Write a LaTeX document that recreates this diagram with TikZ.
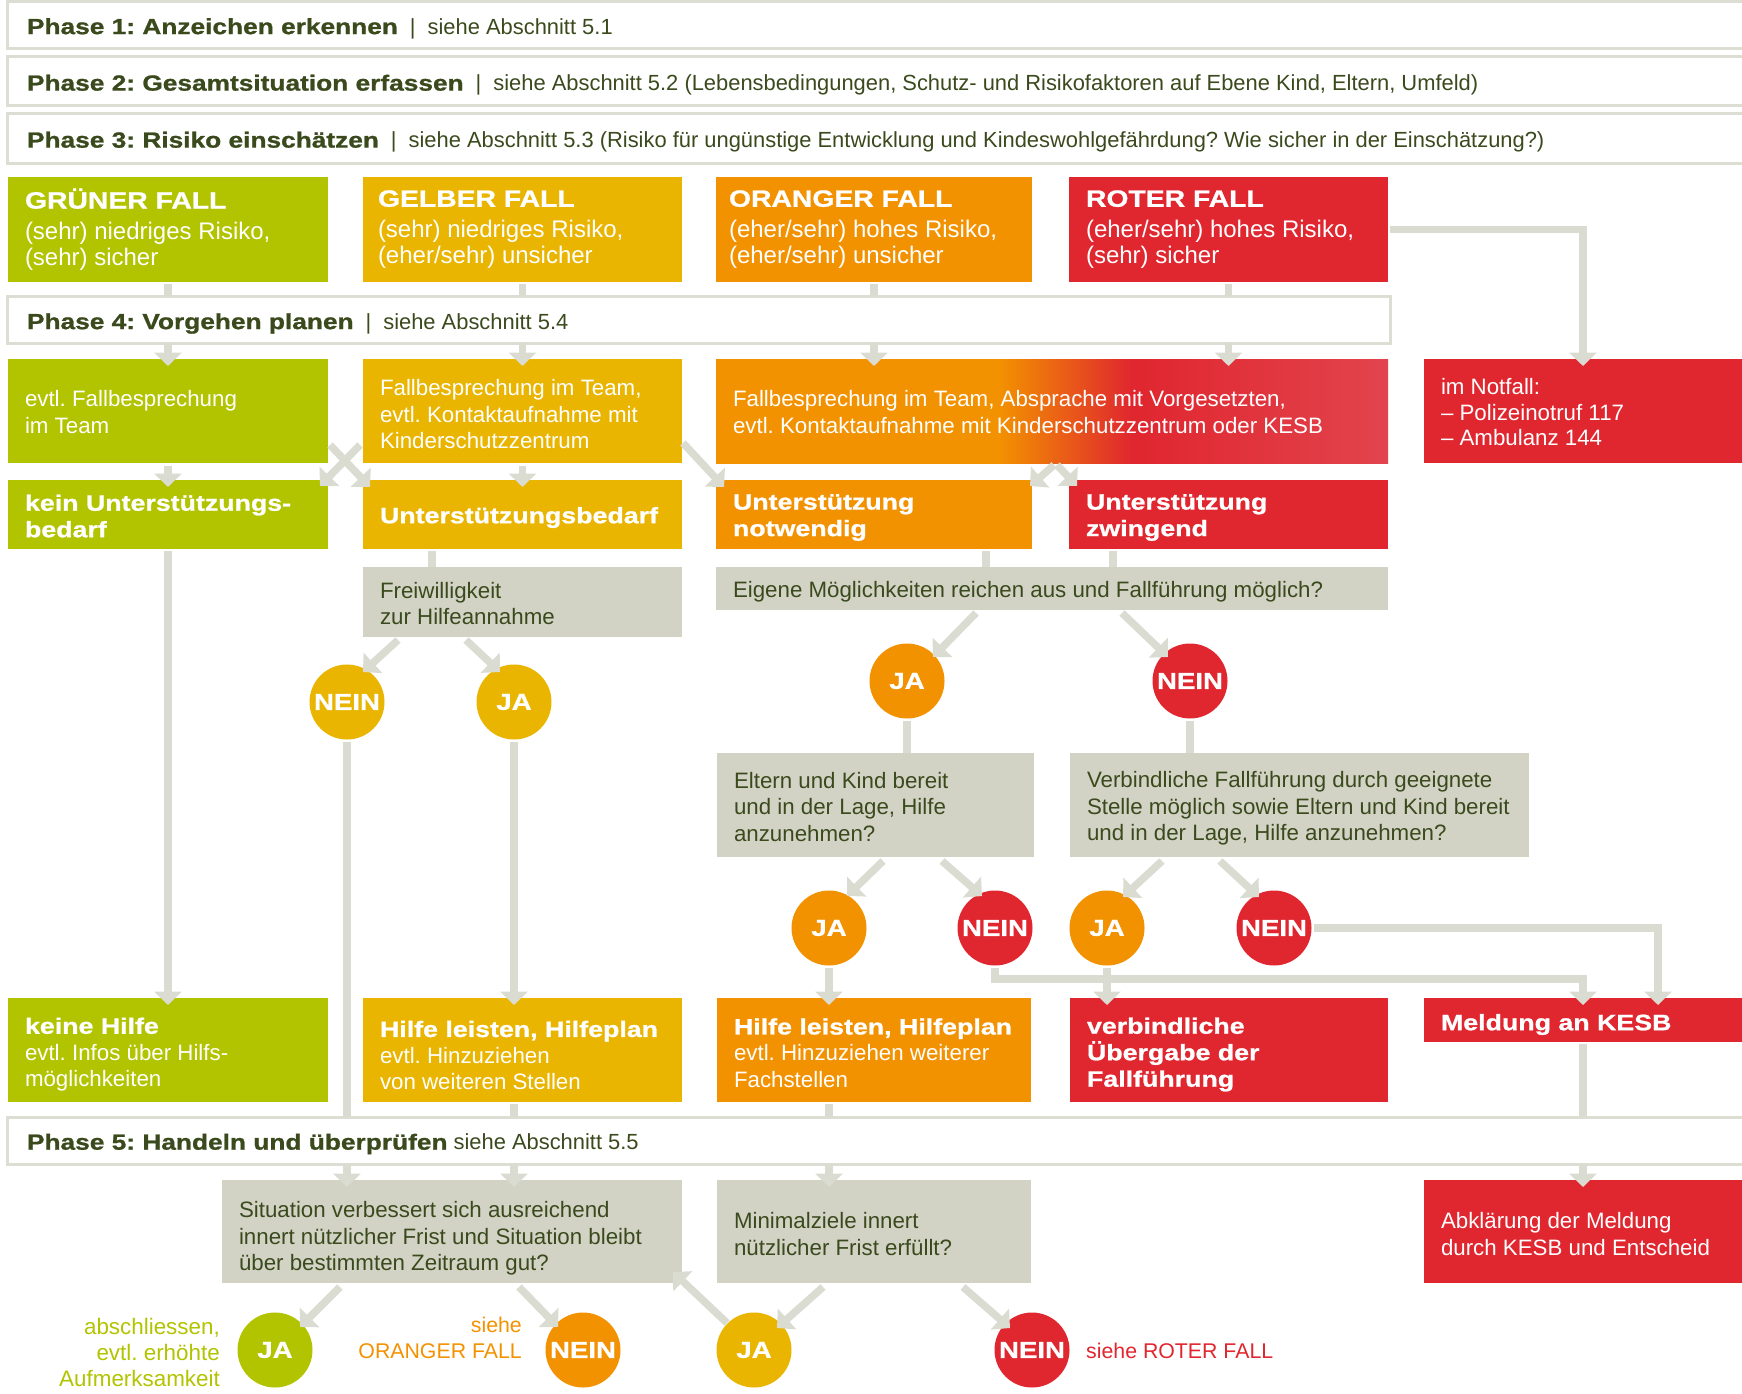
\documentclass[tikz,border=0pt]{standalone}
\usepackage{fontspec}
\setmainfont{Liberation Sans}[BoldFeatures={FakeStretch=1.2,FakeBold=1}]
\usetikzlibrary{arrows.meta,calc}
\frenchspacing
\definecolor{cG}{HTML}{B2C300}
\definecolor{cY}{HTML}{E9B500}
\definecolor{cO}{HTML}{F39200}
\definecolor{cR}{HTML}{E0262F}
\definecolor{cRl}{HTML}{E2444D}
\definecolor{cGray}{HTML}{D2D3C5}
\definecolor{cArr}{HTML}{DADBD1}
\definecolor{cLine}{HTML}{DCDDD3}
\definecolor{cTxt}{HTML}{3A4A1D}
\pgfdeclarehorizontalshading{orangered}{100bp}{color(0bp)=(cO); color(46bp)=(cO); color(56bp)=(cR); color(75bp)=(cRl); color(100bp)=(cRl)}
\newcommand\fPh{\fontsize{21.9}{26}\selectfont}
\newcommand\fCT{\fontsize{23.6}{26}\selectfont\bfseries}
\newcommand\fCB{\fontsize{24}{26}\selectfont}
\newcommand\fBx{\fontsize{22.3}{26.5}\selectfont}
\newcommand\fNf{\fontsize{22.3}{25.5}\selectfont}
\newcommand\fCi{\fontsize{23}{26}\selectfont\bfseries}
\newcommand\fLb{\fontsize{21.3}{26}\selectfont}
\newcommand\fLg{\fontsize{22.4}{26}\selectfont}
\newcommand\bxsh{3.5pt}
\newcommand\bx[7]{\pgfmathsetmacro\bxw{#4-#2}\pgfmathsetmacro\bxh{#5-#3}\pgfmathsetmacro\bxt{#4-#2-34}%
\node[#6,minimum width=\bxw pt,minimum height=\bxh pt] (#1) at (#2,#3) {\raisebox{-\bxsh}[\height][\depth]{\begin{minipage}{\bxt pt}\raggedright #7\end{minipage}}};}
\newcommand\sep{\hskip 12pt{\mdseries|}\hskip 12pt}
\begin{document}
\begin{tikzpicture}[x=1pt,y=-1pt,
  box/.style={inner xsep=17pt,inner ysep=0pt,outer sep=0pt,anchor=north west,font=\fBx},
  wbox/.style={box,text=white},
  gbox/.style={box,fill=cGray,text=cTxt},
  phase/.style={box,fill=white,draw=cLine,line width=3pt,text=cTxt,font=\fPh},
  casebox/.style={wbox,font=\fCB},
  circ/.style={circle,minimum size=75pt,inner sep=0pt,text=white,font=\fCi},
  ln/.style={draw=cArr,line width=7.5pt},
  ar/.style={ln,-{Triangle[width=27pt,length=13.5pt]}},
  lbl/.style={font=\fLb,inner sep=0pt}]
\useasboundingbox (0,0) rectangle (1742,1394);
\clip (0,0) rectangle (1742,1394);
% phase boxes
\renewcommand\bxsh{3pt}
\bx{p1}{7}{2}{1760}{49}{phase}{\hspace*{3pt}{\bfseries Phase 1: Anzeichen erkennen}\sep siehe Abschnitt 5.1}
\renewcommand\bxsh{3.5pt}
\bx{p2}{7}{57}{1760}{106}{phase}{\hspace*{3pt}{\bfseries Phase 2: Gesamtsituation erfassen}\sep siehe Abschnitt 5.2 (Lebensbedingungen, Schutz- und Risikofaktoren auf Ebene Kind, Eltern, Umfeld)}
\bx{p3}{7}{114}{1760}{163}{phase}{\hspace*{3pt}{\bfseries Phase 3: Risiko einschätzen}\sep siehe Abschnitt 5.3 (Risiko für ungünstige Entwicklung und Kindeswohlgefährdung? Wie sicher in der Einschätzung?)}
% case boxes
\renewcommand\bxsh{0pt}
\bx{caseG}{8}{177}{328}{282}{casebox,fill=cG}{{\fCT GRÜNER FALL}\\[5pt](sehr) niedriges Risiko,\\(sehr) sicher}
\bx{caseY}{363}{177}{682}{282}{casebox,fill=cY}{\hspace*{-2pt}{\fCT GELBER FALL}\\[5pt]\hspace*{-2pt}(sehr) niedriges Risiko,\\\hspace*{-2pt}(eher/sehr) unsicher}
\bx{caseO}{716}{177}{1032}{282}{casebox,fill=cO}{\hspace*{-4pt}{\fCT ORANGER FALL}\\[5pt]\hspace*{-4pt}(eher/sehr) hohes Risiko,\\\hspace*{-4pt}(eher/sehr) unsicher}
\bx{caseR}{1069}{177}{1388}{282}{casebox,fill=cR}{{\fCT ROTER FALL}\\[5pt](eher/sehr) hohes Risiko,\\(sehr) sicher}
\renewcommand\bxsh{4pt}
\bx{plan}{7}{296}{1390}{343}{phase}{\hspace*{3pt}{\bfseries Phase 4: Vorgehen planen}\sep siehe Abschnitt 5.4}
% row 1
\renewcommand\bxsh{1.2pt}
\bx{talkG}{8}{359}{328}{463}{wbox,fill=cG}{evtl. Fallbesprechung\\im Team}
\bx{talkOR}{716}{359}{1388}{463}{wbox,shade,shading=orangered}{Fallbesprechung im Team, Absprache mit Vorgesetzten,\\evtl. Kontaktaufnahme mit Kinderschutzzentrum oder KESB}
\bx{notfall}{1424}{359}{1760}{463}{wbox,fill=cR,font=\fNf}{im Notfall:\\– Polizeinotruf 117\\– Ambulanz 144}
\renewcommand\bxsh{3.5pt}
\bx{talkY}{363}{359}{682}{463}{wbox,fill=cY}{Fallbesprechung im Team,\\evtl. Kontaktaufnahme mit\\Kinderschutzzentrum}
% row 2
\renewcommand\bxsh{1.5pt}
\bx{needG}{8}{480}{328}{549}{wbox,fill=cG}{\bfseries kein Unterstützungs-\\bedarf}
\renewcommand\bxsh{3pt}
\bx{needY}{363}{480}{682}{549}{wbox,fill=cY}{\bfseries Unterstützungsbedarf}
\bx{needO}{716}{480}{1032}{549}{wbox,fill=cO}{\bfseries Unterstützung\\notwendig}
\bx{needR}{1069}{480}{1388}{549}{wbox,fill=cR}{\bfseries Unterstützung\\zwingend}
% row 3
\renewcommand\bxsh{1.5pt}
\bx{freiw}{363}{567}{682}{637}{gbox}{Freiwilligkeit\\zur Hilfeannahme}
\renewcommand\bxsh{3.5pt}
\bx{eigene}{716}{567}{1388}{610}{gbox}{Eigene Möglichkeiten reichen aus und Fallführung möglich?}
\node[circ,fill=cY] (fNein) at (347,702) {NEIN};
\node[circ,fill=cY] (fJa) at (514,702) {JA};
\node[circ,fill=cO] (eJa) at (907,681) {JA};
\node[circ,fill=cR] (eNein) at (1190,681) {NEIN};
% row 4
\renewcommand\bxsh{1.8pt}
\bx{eltern}{717}{753}{1034}{857}{gbox}{Eltern und Kind bereit\\und in der Lage, Hilfe\\anzunehmen?}
\renewcommand\bxsh{3.5pt}
\bx{verb}{1070}{753}{1529}{857}{gbox}{Verbindliche Fallführung durch geeignete\\Stelle möglich sowie Eltern und Kind bereit\\und in der Lage, Hilfe anzunehmen?}
\node[circ,fill=cO] (e2Ja) at (829,928) {JA};
\node[circ,fill=cR] (e2Nein) at (995,928) {NEIN};
\node[circ,fill=cO] (v2Ja) at (1107,928) {JA};
\node[circ,fill=cR] (v2Nein) at (1274,928) {NEIN};
% row 6
\renewcommand\bxsh{4.5pt}
\bx{keineHilfe}{8}{998}{328}{1102}{wbox,fill=cG}{{\bfseries keine Hilfe}\\evtl. Infos über Hilfs-\\möglichkeiten}
\renewcommand\bxsh{5.5pt}
\bx{hilfeY}{363}{998}{682}{1102}{wbox,fill=cY}{{\bfseries Hilfe leisten, Hilfeplan}\\evtl. Hinzuziehen\\von weiteren Stellen}
\renewcommand\bxsh{3pt}
\bx{hilfeO}{717}{998}{1031}{1102}{wbox,fill=cO}{{\bfseries Hilfe leisten, Hilfeplan}\\evtl. Hinzuziehen weiterer\\Fachstellen}
\renewcommand\bxsh{4.5pt}
\bx{uebergabe}{1070}{998}{1388}{1102}{wbox,fill=cR}{\bfseries verbindliche\\Übergabe der\\Fallführung}
\bx{meldung}{1424}{998}{1760}{1042}{wbox,fill=cR}{\bfseries Meldung an KESB}
% phase 5
\renewcommand\bxsh{3.5pt}
\bx{p5}{7}{1117}{1760}{1164}{phase}{\hspace*{3pt}{\bfseries Phase 5: Handeln und überprüfen} siehe Abschnitt 5.5}
% row 7
\renewcommand\bxsh{7pt}
\bx{situation}{222}{1180}{682}{1283}{gbox}{Situation verbessert sich ausreichend\\innert nützlicher Frist und Situation bleibt\\über bestimmten Zeitraum gut?}
\renewcommand\bxsh{2.5pt}
\bx{minimal}{717}{1180}{1031}{1283}{gbox}{Minimalziele innert\\nützlicher Frist erfüllt?}
\bx{abkl}{1424}{1180}{1760}{1283}{wbox,fill=cR}{Abklärung der Meldung\\durch KESB und Entscheid}
\node[circ,fill=cG] (sJa) at (275,1350) {JA};
\node[circ,fill=cO] (sNein) at (583,1350) {NEIN};
\node[circ,fill=cY] (mJa) at (754,1350) {JA};
\node[circ,fill=cR] (mNein) at (1032,1350) {NEIN};
\node[lbl,font=\fLg,text=cG,align=right,anchor=east] (lblA) at (220,1352) {abschliessen,\\evtl. erhöhte\\Aufmerksamkeit};
\node[lbl,text=cO,align=right,anchor=east] (lblB) at (522,1338) {siehe\\ORANGER FALL};
\node[lbl,text=cR,anchor=west] (lblC) at (1086,1351) {siehe ROTER FALL};
\coordinate (kx) at ($(meldung.north west)+(159,0)$);
% connectors
\foreach \c in {caseG,caseY,caseO,caseR}{\draw[ln] ($(\c.south)+(0,2)$) -- (\c.south |- plan.north);}
\draw[ar] (plan.south -| talkG) -- ($(talkG.north)+(0,7)$);
\draw[ar] (plan.south -| talkY) -- ($(talkY.north)+(0,7)$);
\draw[ar] (plan.south -| caseO) -- ($(talkOR.north -| caseO)+(0,7)$);
\draw[ar] (plan.south -| caseR) -- ($(talkOR.north -| caseR)+(0,7)$);
\draw[ar] ($(caseR.east)+(2,0)$) -| ($(kx |- notfall.north)+(0,7)$);
\draw[ar] ($(talkG.south)+(0,3)$) -- ($(needG.north)+(0,7)$);
\draw[ar] ($(talkY.south)+(0,3)$) -- ($(needY.north)+(0,7)$);
\draw[ar] ($(talkG.south east)+(2,-18)$) -- ($(needY.north west)+(7,7)$);
\draw[ar] ($(talkY.south west)+(-3,-18)$) -- ($(needG.north east)+(-8,6)$);
\draw[ar] ($(talkY.south east)+(1,-20)$) -- ($(needO.north west)+(8,7)$);
\draw[ar] ($(talkOR.south west)+(338,2)$) -- ($(needO.north east)+(-2,6)$);
\draw[ar] ($(talkOR.south west)+(341,2)$) -- ($(needR.north west)+(8,6)$);
\draw[ln] ($(needY.south west)+(69,2)$) -- ($(freiw.north west)+(69,0)$);
\draw[ln] ($(needO.south west)+(270,2)$) -- ($(eigene.north west)+(270,0)$);
\draw[ln] ($(needR.south west)+(44,2)$) -- ($(eigene.north west)+(397,0)$);
\draw[ar] ($(needG.south)+(0,2)$) -- ($(keineHilfe.north)+(0,7)$);
\draw[ar] ($(freiw.south west)+(35,3)$) -- ($(fNein)+(16,-30)$);
\draw[ar] ($(freiw.south west)+(103,3)$) -- ($(fJa)+(-14,-30)$);
\draw[ln] ($(fNein.south)+(0,2)$) -- (fNein.south |- p5.north);
\draw[ar] (p5.south -| fNein) -- ($(situation.north -| fNein)+(0,7)$);
\draw[ar] ($(fJa.south)+(0,2)$) -- ($(hilfeY.north -| fJa)+(0,7)$);
\draw[ln] ($(hilfeY.south -| fJa)+(0,2)$) -- (p5.north -| fJa);
\draw[ar] (p5.south -| fJa) -- ($(situation.north -| fJa)+(0,7)$);
\draw[ar] ($(eigene.south west)+(260,3)$) -- ($(eJa)+(26,-24)$);
\draw[ar] ($(eigene.south west)+(406,3)$) -- ($(eNein)+(-22,-24)$);
\draw[ln] ($(eJa.south)+(0,2)$) -- (eltern.north -| eJa);
\draw[ln] ($(eNein.south)+(0,2)$) -- (verb.north -| eNein);
\draw[ar] ($(eltern.south west)+(166,4)$) -- ($(e2Ja)+(18,-32)$);
\draw[ar] ($(eltern.south west)+(225,4)$) -- ($(e2Nein)+(-13,-32)$);
\draw[ar] ($(verb.south west)+(92,4)$) -- ($(v2Ja)+(16,-31)$);
\draw[ar] ($(verb.south west)+(150,4)$) -- ($(v2Nein)+(-15,-31)$);
\draw[ar] ($(e2Ja.south)+(0,2)$) -- ($(hilfeO.north -| e2Ja)+(0,7)$);
\draw[ar] ($(v2Ja.south)+(0,2)$) -- ($(uebergabe.north -| v2Ja)+(0,7)$);
\draw[ar] ($(e2Nein.south)+(0,2)$) |- ($(kx |- meldung.north)+(0,-19)$) -- ($(kx |- meldung.north)+(0,7)$);
\draw[ar] ($(v2Nein.east)+(2,0)$) -| ($(meldung.north west)+(234,7)$);
\draw[ln] ($(hilfeO.south -| e2Ja)+(0,2)$) -- (p5.north -| e2Ja);
\draw[ar] (p5.south -| e2Ja) -- ($(minimal.north -| e2Ja)+(0,7)$);
\draw[ln] ($(kx |- meldung.south)+(0,2)$) -- (kx |- p5.north);
\draw[ar] (p5.south -| kx) -- ($(abkl.north -| kx)+(0,7)$);
\draw[ar] ($(situation.south west)+(118,4)$) -- ($(sJa)+(25,-23)$);
\draw[ar] ($(situation.south west)+(297,4)$) -- ($(sNein)+(-25,-23)$);
\draw[ar] ($(mJa)+(-27,-27)$) -- ($(situation.south east)+(-9,-11)$);
\draw[ar] ($(minimal.south west)+(106,4)$) -- ($(mJa)+(23,-22)$);
\draw[ar] ($(minimal.south west)+(246,4)$) -- ($(mNein)+(-22,-22)$);
\end{tikzpicture}
\end{document}
